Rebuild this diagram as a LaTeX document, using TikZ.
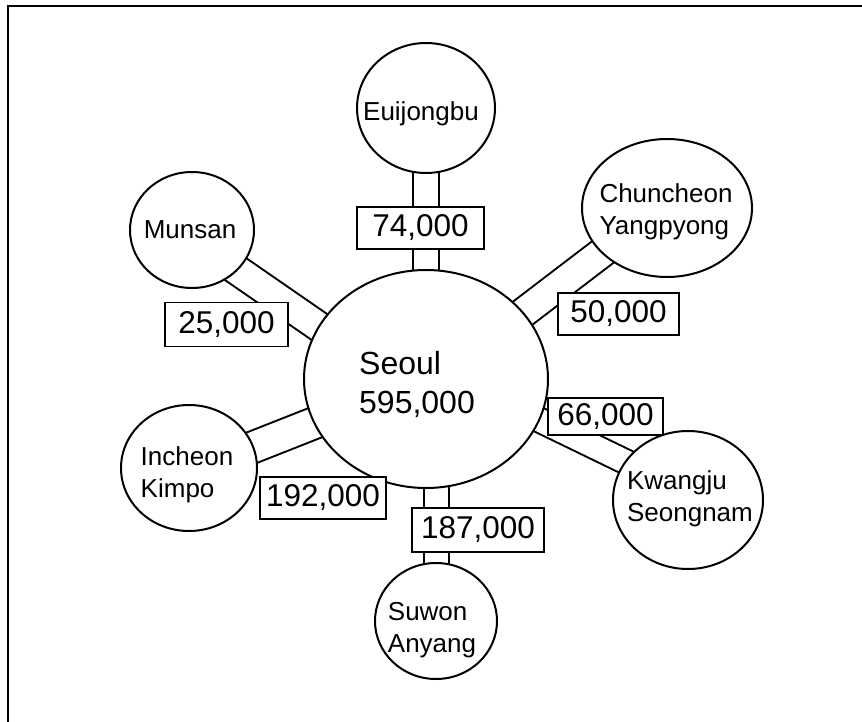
\documentclass[tikz,border=0pt]{standalone}
\usepackage{fontspec}
\setmainfont{Liberation Sans}
\usetikzlibrary{shapes.geometric,backgrounds}
\begin{document}
\begin{tikzpicture}[x=1pt,y=-1pt,
  city/.style={draw, ellipse, line width=2pt, fill=white, inner sep=0pt},
  ctext/.style={align=left, inner sep=0pt, font=\fontsize{26}{32}\selectfont},
  bigtext/.style={align=left, inner sep=0pt, font=\fontsize{32}{39}\selectfont},
  flow/.style={draw, fill=white, line width=1.8pt, inner sep=0pt, minimum height=42pt, font=\fontsize{31.5}{36}\selectfont},
  road/.style={line width=2pt, double=white, double distance=#1},
  outerframe/.style={line width=2.5pt}
]
\useasboundingbox (0,0) rectangle (862,722);
\draw[outerframe] (8,722) -- (8,6) -- (862,6);

% cities
\node[city, minimum width=138, minimum height=130] (euij) at (426,108) {};
\node[city, minimum width=124, minimum height=116] (munsan) at (192,230) {};
\node[city, minimum width=170, minimum height=138] (chun) at (667,208) {};
\node[city, minimum width=244, minimum height=218] (seoul) at (426,379) {};
\node[city, minimum width=136, minimum height=126] (inch) at (189,468) {};
\node[city, minimum width=150, minimum height=138] (kwang) at (688,500) {};
\node[city, minimum width=122, minimum height=116] (suwon) at (436,621) {};

% city names
\node[ctext] (euijT) at (421,114) {Euijongbu};
\node[ctext] (munsanT) at (190,230) {Munsan};
\node[ctext] (chunT) at (666,212) {Chuncheon\\Yangpyong};
\node[bigtext] (seoulT) at (417,384) {Seoul\\595,000};
\node[ctext] (inchT) at (187,475) {Incheon\\Kimpo};
\node[ctext] (kwangT) at (690,499) {Kwangju\\Seongnam};
\node[ctext] (suwonT) at (432,630) {Suwon\\Anyang};

% flow labels
\node[flow, minimum width=127] (l74) at (420.5,228) {74,000};
\node[flow, minimum width=123, minimum height=44] (l25) at (226.5,324.5) {25,000};
\node[flow, minimum width=121] (l50) at (618.5,314) {50,000};
\node[flow, minimum width=115, minimum height=37] (l66) at (605.5,416.5) {66,000};
\node[flow, minimum width=126] (l192) at (323,498) {192,000};
\node[flow, minimum width=132, minimum height=44] (l187) at (478,530) {187,000};

% connectors (double lines) behind everything
\begin{scope}[on background layer]
\draw[road=24pt] (euij.center) -- (seoul.center);
\draw[road=23pt] (suwon.center) -- (suwon.center |- seoul.center);
\draw[road=28pt] ([shift={(3,11)}]munsan.center) -- ([shift={(-1,21)}]seoul.center);
\draw[road=28pt] ([shift={(0,-5)}]chun.center) -- ([shift={(0,8)}]seoul.center);
\draw[road=23pt] ([shift={(0,-8)}]kwang.center) -- ([shift={(0,-14)}]seoul.center);
\draw[road=30pt] ([shift={(0,4.5)}]inch.center) -- (seoul.center);
\end{scope}
\end{tikzpicture}
\end{document}
